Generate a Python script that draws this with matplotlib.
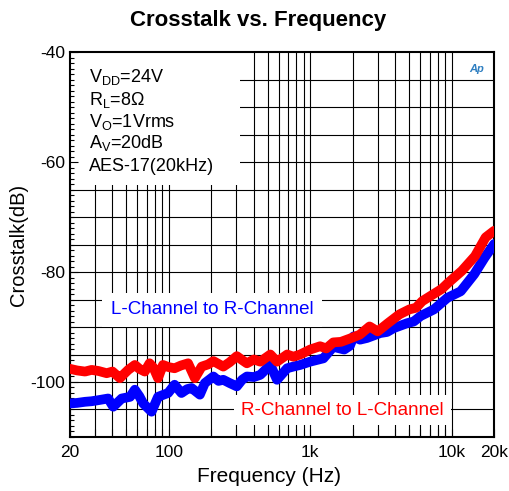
import numpy as np
import matplotlib
matplotlib.use('Agg')
import matplotlib.pyplot as plt
from matplotlib.patches import Rectangle
from matplotlib.ticker import FixedLocator, NullFormatter

plt.rcParams['font.family'] = ['Liberation Sans', 'DejaVu Sans']
plt.rcParams['mathtext.fontset'] = 'custom'
plt.rcParams['mathtext.rm'] = 'Liberation Sans'
plt.rcParams['axes.unicode_minus'] = False

# R-Channel to L-Channel (red)
freq_r = [20, 22.5, 25.6, 28.5, 31.9, 36.4, 40, 45.2, 48, 51.7, 57.6, 62, 67.7, 73.2, 78,
          84, 91, 100, 110, 122, 137, 153, 171, 190, 207, 243, 270, 303, 330, 357, 400,
          444, 523, 583, 688, 760, 850, 1000, 1175, 1300, 1457, 1650, 1910, 2240, 2630,
          3000, 3550, 4280, 5030, 5600, 6200, 7680, 8500, 9520, 11800, 14650, 17400, 20000]
xtalk_r = [-97.6, -97.9, -98.1, -97.8, -98.0, -98.4, -98.1, -99.3, -98.6, -97.8, -96.9,
           -97.6, -98.1, -96.6, -97.4, -99.3, -96.9, -97.3, -97.5, -97.0, -96.6, -99.3,
           -97.2, -96.8, -96.2, -97.2, -96.4, -95.3, -96.0, -96.6, -95.9, -96.3, -95.0,
           -96.3, -95.0, -95.4, -95.0, -94.1, -93.5, -93.9, -92.8, -92.7, -92.1, -91.4,
           -89.9, -90.8, -89.3, -87.7, -86.8, -86.5, -85.3, -83.8, -83.1, -81.9, -79.8,
           -77.1, -73.7, -72.5]

# L-Channel to R-Channel (blue)
freq_l = [20, 22.5, 25.6, 28.5, 31.9, 37.3, 40.5, 46.5, 53.3, 57.6, 62, 66, 75.6, 84, 90,
          99, 110, 123, 135, 145, 166, 180, 207, 225, 243, 270, 303, 330, 357, 400, 444,
          523, 583, 688, 760, 850, 1000, 1240, 1457, 1740, 1910, 2030, 2250, 2520, 3130,
          3500, 3900, 4860, 5400, 6040, 7500, 9330, 11600, 14450, 17100, 20000]
xtalk_l = [-103.9, -103.8, -103.6, -103.5, -103.3, -103.0, -104.5, -103.0, -102.7, -101.4,
           -102.6, -103.9, -105.4, -102.7, -102.4, -102.0, -100.5, -102.0, -101.3, -101.1,
           -102.3, -100.2, -99.0, -99.8, -99.6, -100.2, -100.8, -99.6, -99.0, -99.1, -98.7,
           -96.9, -99.6, -97.5, -97.2, -96.9, -96.3, -95.7, -93.6, -94.1, -93.4, -91.7,
           -92.3, -92.0, -91.1, -90.9, -90.2, -89.3, -89.0, -88.0, -86.8, -84.7, -83.5,
           -80.4, -77.4, -74.9]

x_ticks = [20, 100, 1000, 10000, 20000]
x_ticklabels = ['20', '100', '1k', '10k', '20k']
y_ticks = [-100, -80, -60, -40]
conditions = [r'V$_{\mathrm{DD}}$=24V', r'R$_{\mathrm{L}}$=8$\Omega$', r'V$_{\mathrm{O}}$=1Vrms',
              r'A$_{\mathrm{V}}$=20dB', 'AES-17(20kHz)']

fig = plt.figure(figsize=(5.1, 4.91), dpi=100)
ax = fig.add_axes([0.137, 0.110, 0.832, 0.784])
ax.set_xscale('log')
ax.set_xlim(20, 20000)
ax.set_ylim(-110, -40)

# grid drawn by hand so the text boxes can cover it but not the ticks
vgrid = [m * 10 ** e for e in range(1, 5) for m in range(1, 10) if 20 <= m * 10 ** e <= 20000] + [20000]
hgrid = np.arange(-105, -40, 5)
ax.vlines(vgrid, -110, -40, color='black', lw=0.8, zorder=0.5)
ax.hlines(hgrid, 20, 20000, color='black', lw=0.8, zorder=0.5)

ax.add_patch(Rectangle((0, 0.655), 0.40, 0.345, transform=ax.transAxes,
                       facecolor='white', edgecolor='none', zorder=1))

ax.plot(freq_l, xtalk_l, color='#0000ff', lw=7, solid_capstyle='round',
        solid_joinstyle='round', zorder=3)
ax.plot(freq_r, xtalk_r, color='#ff0000', lw=7, solid_capstyle='round',
        solid_joinstyle='round', zorder=3.1)

ax.xaxis.set_major_locator(FixedLocator(x_ticks))
ax.set_xticklabels(x_ticklabels)
ax.xaxis.set_minor_locator(FixedLocator([v for v in vgrid if v not in x_ticks]))
ax.xaxis.set_minor_formatter(NullFormatter())
ax.set_yticks(y_ticks)
ax.set_yticks(np.arange(-110, -39, 1), minor=True)
ax.tick_params(axis='both', which='both', direction='in', labelsize=12.5, width=0.8)
ax.tick_params(axis='x', which='both', length=6)
ax.tick_params(axis='y', which='major', length=6)
ax.tick_params(axis='y', which='minor', length=3)
ax.tick_params(axis='x', pad=6)
for s in ax.spines.values():
    s.set_linewidth(1.5)

ax.set_xlabel('Frequency (Hz)', fontsize=15)
ax.xaxis.set_label_coords(0.469, -0.078)
ax.set_ylabel('Crosstalk(dB)', fontsize=14.5)
ax.yaxis.set_label_coords(-0.122, 0.5)
ax.yaxis.label.set_va('center')
fig.text(0.507, 0.959, 'Crosstalk vs. Frequency', fontsize=16, fontweight='bold',
         ha='center', va='center')

ys = [0.936, 0.875, 0.819, 0.763, 0.702]
for t, y in zip(conditions, ys):
    ax.text(0.045, y, t, transform=ax.transAxes, fontsize=13, va='center', ha='left', zorder=4)

ax.text(0.335, 0.33, 'L-Channel to R-Channel', transform=ax.transAxes, fontsize=13.5,
        color='#0000ff', ha='center', va='center', zorder=4,
        bbox=dict(facecolor='white', edgecolor='none', pad=6))
ax.text(0.642, 0.07, 'R-Channel to L-Channel', transform=ax.transAxes, fontsize=13.5,
        color='#ff0000', ha='center', va='center', zorder=4,
        bbox=dict(facecolor='white', edgecolor='none', pad=5))
ax.text(0.975, 0.97, 'Ap', transform=ax.transAxes, fontsize=8, color='#2f7fc1',
        fontstyle='italic', fontweight='bold', ha='right', va='top', zorder=4)

fig.savefig('out.png', dpi=100)
